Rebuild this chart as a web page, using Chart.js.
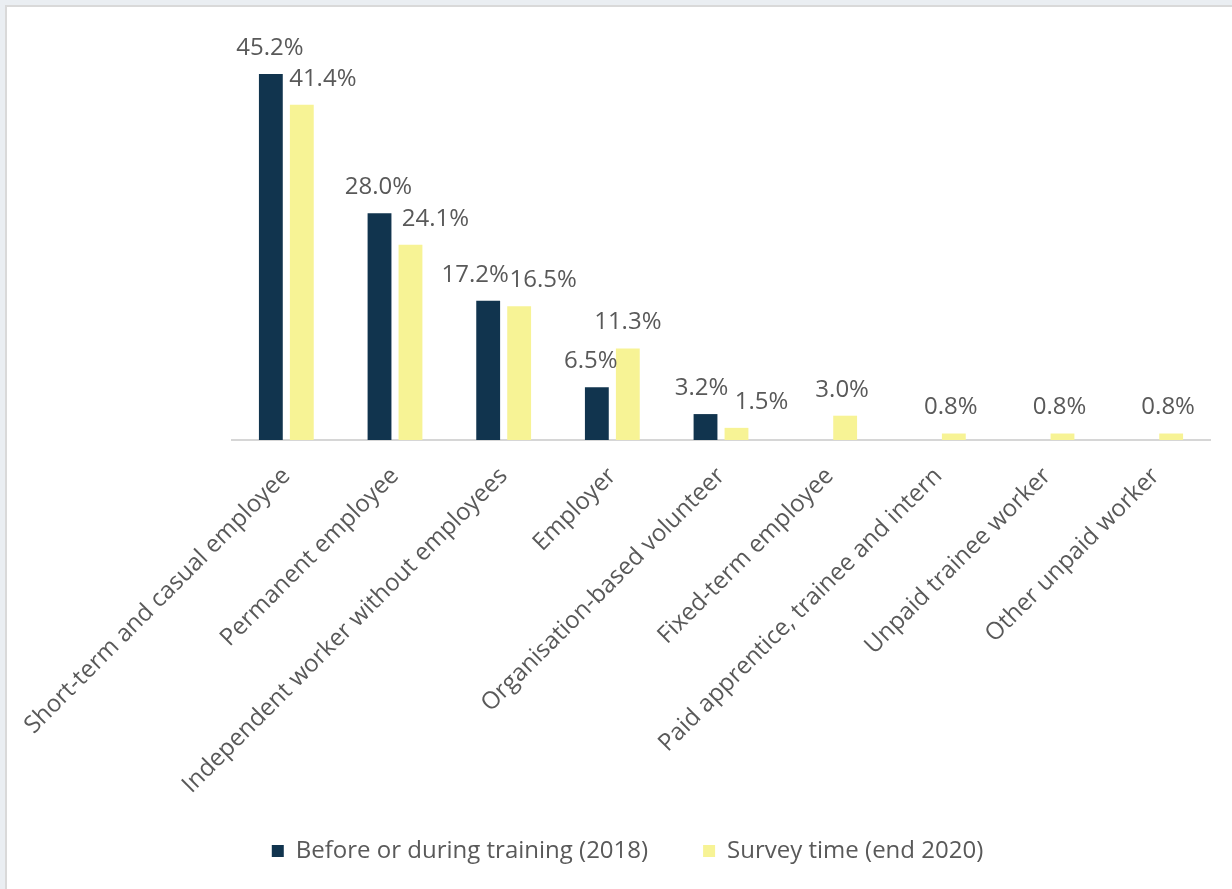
<!DOCTYPE html>
<html>
<head>
<meta charset="utf-8">
<script src="https://cdn.jsdelivr.net/npm/chart.js@4/dist/chart.umd.min.js"></script>
<style>
  html, body { margin: 0; padding: 0; background: #eaeef2; }
  #panel {
    position: absolute; left: 5px; top: 5px; width: 1227px; height: 884px;
    background: #fff; border-top: 2px solid #d9d9d9; border-left: 2px solid #d9d9d9;
    box-sizing: border-box;
  }
  #wrap { position: absolute; left: 0; top: 0; width: 1225px; height: 882px; }
</style>
</head>
<body>
<div id="panel"><div id="wrap"><canvas id="statusChart"></canvas></div></div>
<script>
(function () {
    'use strict';

    /* ── Datos ─────────────────────────────────────────────── */
    var categories = [
        'Short-term and casual employee',
        'Permanent employee',
        'Independent worker without employees',
        'Employer',
        'Organisation-based volunteer',
        'Fixed-term employee',
        'Paid apprentice, trainee and intern',
        'Unpaid trainee worker',
        'Other unpaid worker'
    ];
    var before2018 = [45.2, 28.0, 17.2, 6.5, 3.2, null, null, null, null];
    var survey2020 = [41.4, 24.1, 16.5, 11.3, 1.5, 3.0, 0.8, 0.8, 0.8];
    var seriesNames = ['Before or during training (2018)', 'Survey time (end 2020)'];

    /* desplazamiento horizontal de cada etiqueta (px) para que no se pisen */
    var shiftBefore = [-1, -1, -13, -6, -4, 0, 0, 0, 0];
    var shiftSurvey = [21, 25, 24, 0, 25, -3, -3, -3, -3];

    var C = { navy: '#11344e', yellow: '#f7f395', text: '#595959', axis: '#d6d6d6' };
    var FONT = "'Open Sans', sans-serif";

    /* ── Etiquetas de valor sobre cada barra ───────────────── */
    var valueLabels = {
        id: 'valueLabels',
        afterDatasetsDraw: function (chart) {
            var g = chart.ctx;
            var shifts = [shiftBefore, shiftSurvey];
            g.save();
            g.font = '24px ' + FONT;
            g.fillStyle = C.text;
            g.textAlign = 'center';
            g.textBaseline = 'middle';
            chart.data.datasets.forEach(function (ds, di) {
                chart.getDatasetMeta(di).data.forEach(function (bar, i) {
                    var v = ds.data[i];
                    if (v === null || v === undefined) return;
                    g.fillText(v.toFixed(1) + '%', bar.x + shifts[di][i], bar.y - 26);
                });
            });
            g.restore();
        }
    };

    /* las etiquetas giradas bajan hasta la leyenda: se amplía la zona de recorte del eje */
    var longTicks = {
        id: 'longTicks',
        afterLayout: function (chart) {
            chart.scales.x.bottom = chart.height;
        }
    };

    Chart.defaults.font.family = FONT;
    Chart.defaults.color = C.text;
    Chart.defaults.animation = false;

    new Chart(document.getElementById('statusChart').getContext('2d'), {
        type: 'bar',
        data: {
            labels: categories,
            datasets: [
                { label: seriesNames[0], data: before2018, backgroundColor: C.navy,
                  categoryPercentage: 0.57, barPercentage: 0.77 },
                { label: seriesNames[1], data: survey2020, backgroundColor: C.yellow,
                  categoryPercentage: 0.57, barPercentage: 0.77 }
            ]
        },
        options: {
            responsive: true,
            maintainAspectRatio: false,
            layout: { padding: { left: 16, right: 0, top: 28, bottom: 16 } },
            plugins: {
                legend: {
                    position: 'bottom',
                    labels: { boxWidth: 12, boxHeight: 12, padding: 55, font: { size: 24 }, color: C.text }
                },
                tooltip: { enabled: false }
            },
            scales: {
                x: {
                    grid: { display: false },
                    border: { display: true, color: C.axis, width: 2 },
                    ticks: { minRotation: 45, maxRotation: 45, autoSkip: false,
                             font: { size: 24 }, color: C.text, padding: 14 },
                    /* alto fijo del eje y márgenes laterales del área de barras */
                    afterFit: function (s) {
                        s.height = 344;
                        s.paddingLeft = 225;
                        s.paddingRight = 22;
                        s.paddingTop = 0;
                    }
                },
                y: { display: false, min: 0, max: 50 }
            }
        },
        plugins: [valueLabels, longTicks]
    });
})();
</script>
</body>
</html>
